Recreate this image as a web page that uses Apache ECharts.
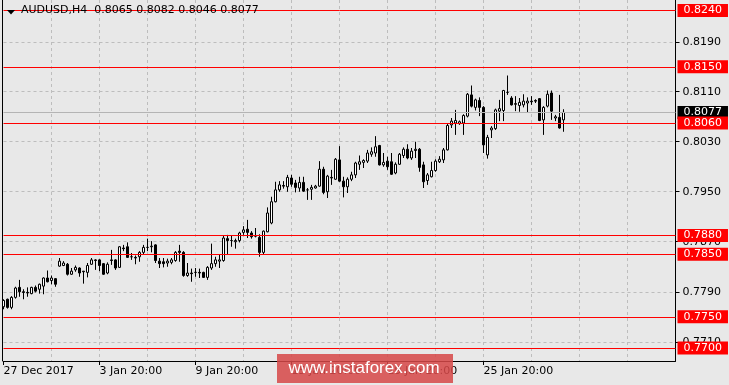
<!DOCTYPE html>
<html><head><meta charset="utf-8">
<script src="https://cdn.jsdelivr.net/npm/echarts@6/dist/echarts.min.js"></script>
<style>html,body{margin:0;padding:0;background:#e8e8e8;}#c{width:729px;height:385px;}</style>
</head><body><div id="c"></div>
<script>
const symbolTitle = 'AUDUSD,H4  0.8065 0.8082 0.8046 0.8077';
const opens = [0.7766,0.7778,0.7765,0.7781,0.7797,0.7790,0.7789,0.7787,0.7797,0.7794,0.7799,0.7812,0.7808,0.7811,0.7831,0.7832,0.7834,0.7818,0.7825,0.7828,0.7823,0.7821,0.7834,0.7841,0.7841,0.7835,0.7820,0.7841,0.7841,0.7829,0.7860,0.7862,0.7846,0.7845,0.7846,0.7853,0.7861,0.7862,0.7865,0.7839,0.7838,0.7836,0.7837,0.7840,0.7855,0.7853,0.7816,0.7820,0.7821,0.7821,0.7821,0.7813,0.7828,0.7835,0.7839,0.7840,0.7875,0.7872,0.7870,0.7872,0.7885,0.7890,0.7884,0.7879,0.7877,0.7853,0.7886,0.7900,0.7934,0.7953,0.7960,0.7958,0.7972,0.7964,0.7956,0.7965,0.7953,0.7954,0.7956,0.7959,0.7986,0.7950,0.7973,0.7970,0.8001,0.7967,0.7958,0.7970,0.7977,0.7994,0.7997,0.7999,0.8010,0.8012,0.8024,0.7993,0.7999,0.7998,0.7980,0.7994,0.8008,0.8018,0.8004,0.8016,0.8018,0.7993,0.7968,0.7974,0.7984,0.7998,0.8001,0.8017,0.8057,0.8060,0.8059,0.8060,0.8071,0.8105,0.8085,0.8096,0.8085,0.8009,0.8049,0.8051,0.8079,0.8080,0.8109,0.8100,0.8091,0.8088,0.8089,0.8092,0.8095,0.8096,0.8099,0.8065,0.8087,0.8108,0.8068,0.8069,0.8065];
const highs = [0.7778,0.7779,0.7783,0.7798,0.7809,0.7794,0.7797,0.7798,0.7800,0.7803,0.7813,0.7824,0.7816,0.7812,0.7844,0.7839,0.7836,0.7828,0.7832,0.7829,0.7823,0.7836,0.7844,0.7842,0.7842,0.7836,0.7837,0.7857,0.7842,0.7863,0.7865,0.7869,0.7852,0.7848,0.7855,0.7865,0.7875,0.7871,0.7866,0.7844,0.7844,0.7843,0.7844,0.7855,0.7865,0.7855,0.7836,0.7827,0.7828,0.7827,0.7822,0.7831,0.7867,0.7846,0.7849,0.7880,0.7881,0.7880,0.7875,0.7886,0.7895,0.7905,0.7887,0.7892,0.7882,0.7888,0.7925,0.7942,0.7966,0.7967,0.7967,0.7977,0.7977,0.7969,0.7974,0.7974,0.7956,0.7961,0.7961,0.7999,0.7990,0.7977,0.7985,0.8004,0.8023,0.7974,0.7973,0.7982,0.7998,0.8008,0.8002,0.8017,0.8021,0.8039,0.8025,0.8012,0.8006,0.8012,0.7997,0.8012,0.8021,0.8026,0.8020,0.8030,0.8020,0.7998,0.7980,0.7998,0.8002,0.8007,0.8020,0.8060,0.8068,0.8081,0.8064,0.8074,0.8108,0.8120,0.8099,0.8101,0.8087,0.8041,0.8055,0.8083,0.8097,0.8113,0.8136,0.8103,0.8103,0.8100,0.8106,0.8101,0.8103,0.8098,0.8100,0.8087,0.8112,0.8112,0.8073,0.8105,0.8082];
const lows = [0.7762,0.7763,0.7762,0.7779,0.7782,0.7778,0.7782,0.7786,0.7789,0.7787,0.7786,0.7805,0.7802,0.7798,0.7830,0.7831,0.7816,0.7817,0.7822,0.7814,0.7803,0.7813,0.7833,0.7825,0.7823,0.7817,0.7818,0.7833,0.7825,0.7828,0.7855,0.7844,0.7841,0.7834,0.7838,0.7850,0.7855,0.7853,0.7836,0.7828,0.7829,0.7830,0.7834,0.7838,0.7838,0.7814,0.7814,0.7806,0.7814,0.7812,0.7812,0.7809,0.7825,0.7830,0.7828,0.7838,0.7850,0.7862,0.7859,0.7869,0.7881,0.7876,0.7875,0.7877,0.7846,0.7850,0.7885,0.7898,0.7933,0.7950,0.7955,0.7950,0.7958,0.7949,0.7950,0.7950,0.7937,0.7937,0.7955,0.7958,0.7946,0.7940,0.7961,0.7969,0.7966,0.7941,0.7948,0.7967,0.7972,0.7985,0.7988,0.7996,0.8006,0.8006,0.7992,0.7990,0.7985,0.7977,0.7978,0.7993,0.8004,0.8002,0.8001,0.8004,0.7982,0.7956,0.7961,0.7973,0.7982,0.7996,0.7996,0.8016,0.8052,0.8041,0.8057,0.8041,0.8069,0.8085,0.8080,0.8071,0.8012,0.8003,0.8036,0.8049,0.8063,0.8063,0.8105,0.8088,0.8079,0.8078,0.8085,0.8076,0.8089,0.8092,0.8063,0.8041,0.8085,0.8065,0.8063,0.8051,0.8046];
const closes = [0.7776,0.7765,0.7781,0.7796,0.7790,0.7789,0.7788,0.7797,0.7791,0.7802,0.7812,0.7806,0.7812,0.7802,0.7839,0.7836,0.7818,0.7823,0.7829,0.7820,0.7822,0.7832,0.7841,0.7840,0.7832,0.7818,0.7834,0.7840,0.7828,0.7862,0.7859,0.7845,0.7846,0.7844,0.7853,0.7861,0.7861,0.7863,0.7840,0.7835,0.7835,0.7839,0.7841,0.7853,0.7853,0.7816,0.7820,0.7819,0.7821,0.7820,0.7813,0.7829,0.7835,0.7841,0.7841,0.7876,0.7872,0.7872,0.7872,0.7884,0.7889,0.7885,0.7878,0.7879,0.7853,0.7887,0.7916,0.7934,0.7953,0.7961,0.7959,0.7973,0.7962,0.7957,0.7965,0.7951,0.7953,0.7957,0.7959,0.7986,0.7949,0.7975,0.7972,0.8002,0.7967,0.7958,0.7970,0.7977,0.7996,0.7998,0.8000,0.8012,0.8014,0.8022,0.7993,0.7997,0.7990,0.7978,0.7994,0.8010,0.8018,0.8004,0.8015,0.8018,0.7989,0.7966,0.7977,0.7984,0.7999,0.8002,0.8017,0.8056,0.8063,0.8064,0.8062,0.8072,0.8106,0.8087,0.8097,0.8085,0.8025,0.8037,0.8052,0.8081,0.8083,0.8112,0.8109,0.8089,0.8090,0.8093,0.8095,0.8095,0.8094,0.8095,0.8064,0.8085,0.8106,0.8079,0.8070,0.8052,0.8077];
const xTickLabels = ['27 Dec 2017','3 Jan 20:00','9 Jan 20:00','15 Jan 20:00','19 Jan 20:00','25 Jan 20:00'];
const yTickValues = [0.7710,0.7790,0.7870,0.7950,0.8030,0.8110,0.8190];
const levelLines = [0.8240,0.8150,0.8060,0.7880,0.7850,0.7750,0.7700];
const lastPrice = 0.8077;

const FONT = 'DejaVu Sans';
const slotCount = 169;
const slots = Array.from({length: slotCount}, (_, i) => String(i));
const candles = opens.map((o, i) => [o, closes[i], lows[i], highs[i]]);
const yMin = 0.76792, yMax = 0.82568;
const labelTick = (i) => i % 24 === 0 && i / 24 < xTickLabels.length;

const chart = echarts.init(document.getElementById('c'), null, {renderer: 'canvas'});
const mlData = [{
  yAxis: lastPrice,
  lineStyle: {color: '#b4b4b4'},
  label: {backgroundColor: '#000000', formatter: lastPrice.toFixed(4)}
}].concat(levelLines.map(v => ({
  yAxis: v,
  lineStyle: {color: '#ff0000'},
  label: {backgroundColor: '#ff0000', formatter: v.toFixed(4)}
})));

chart.setOption({
  animation: false,
  backgroundColor: '#e8e8e8',
  title: {
    text: symbolTitle, left: 21, top: 5, padding: 0,
    textStyle: {fontFamily: FONT, fontSize: 11, fontWeight: 'normal', color: '#000'}
  },
  grid: {left: 3.5, right: 53.5, top: 0, bottom: 24},
  xAxis: {
    type: 'category', data: slots, boundaryGap: false,
    axisLine: {show: true, lineStyle: {color: '#000', width: 1}},
    axisTick: {show: true, interval: labelTick, length: 4, lineStyle: {color: '#000'}},
    axisLabel: {
      show: true, interval: labelTick,
      formatter: (v, i) => xTickLabels[i / 24] || '',
      align: 'left', margin: 5, fontFamily: FONT, fontSize: 11, color: '#000'
    },
    splitLine: {show: true, interval: (i) => i % 12 === 0 && i > 0, lineStyle: {color: '#bdbdbd', type: [3, 3]}}
  },
  yAxis: [{
    type: 'value', position: 'right', min: yMin, max: yMax,
    axisLine: {show: true, lineStyle: {color: '#000'}},
    axisTick: {show: true, length: 4, customValues: yTickValues, lineStyle: {color: '#000'}},
    axisLabel: {
      customValues: yTickValues, margin: 7, formatter: v => v.toFixed(4),
      fontFamily: FONT, fontSize: 11, color: '#000'
    },
    splitLine: {show: true, lineStyle: {color: '#bdbdbd', type: [3, 3]}}
  }, {
    type: 'value', position: 'left', offset: 1.5, min: yMin, max: yMax,
    axisLine: {show: true, lineStyle: {color: '#000'}},
    axisTick: {show: false}, axisLabel: {show: false}, splitLine: {show: false}
  }],
  series: [{
    type: 'candlestick', data: candles, barWidth: 3, clip: false,
    itemStyle: {color: '#ffffff', color0: '#000000', borderColor: '#000000', borderColor0: '#000000', borderWidth: 1},
    markLine: {
      silent: true, symbol: ['none', 'none'], animation: false, precision: 4,
      lineStyle: {type: 'solid', width: 1},
      label: {
        show: true, position: 'end', distance: 2, color: '#fff',
        fontFamily: FONT, fontSize: 11, lineHeight: 11, padding: [1, 6, 1, 6]
      },
      data: mlData
    }
  }],
  graphic: [
    {type: 'polygon', z: 50, shape: {points: [[7, 10], [15, 10], [11, 14.5]]}, style: {fill: '#000'}},
    {type: 'rect', z: 100, shape: {x: 277, y: 354, width: 176, height: 29}, style: {fill: 'rgba(214,72,72,0.86)'}},
    {type: 'text', z: 101, x: 364, y: 368.5, style: {
      text: 'www.instaforex.com', fill: '#ffffff', font: '17px "Liberation Sans"',
      align: 'center', verticalAlign: 'middle'
    }}
  ]
});
</script>
</body></html>
